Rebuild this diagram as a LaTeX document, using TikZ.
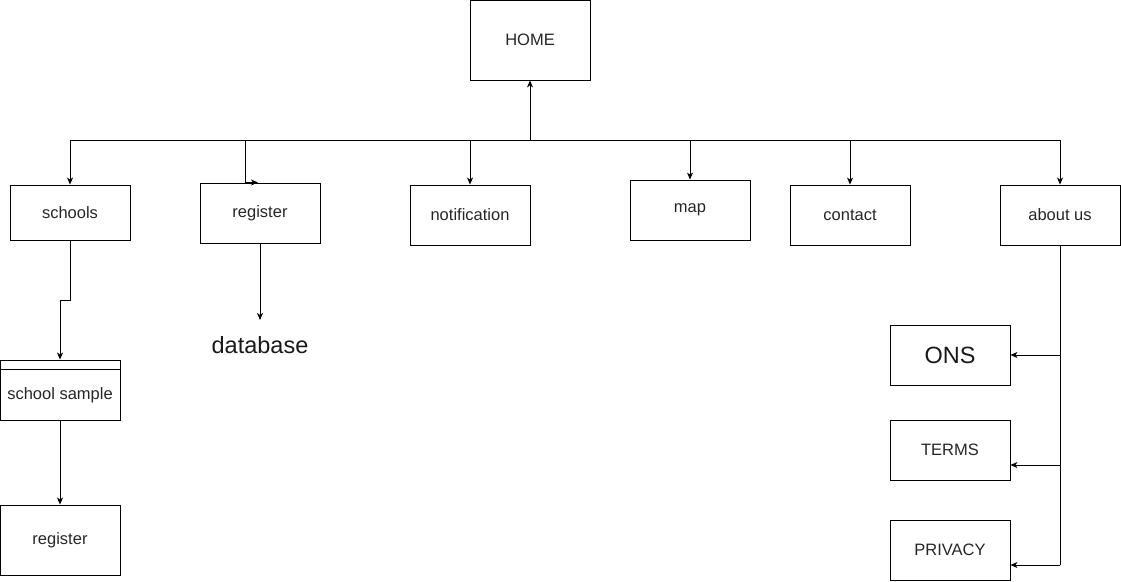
\documentclass[tikz,border=0pt]{standalone}
\usepackage{fontspec}
\setmainfont{Liberation Sans}
\usetikzlibrary{arrows.meta}
\begin{document}
\begin{tikzpicture}[x=1pt,y=-1pt,
  page/.style={draw=black,line width=0.9pt,minimum width=120pt,minimum height=60pt,inner sep=0pt,font=\fontsize{16.5}{19}\selectfont,text=black!85},
  bigtext/.style={font=\fontsize{23.5}{27}\selectfont,text=black!90},
  link/.style={draw=black,line width=0.9pt,-{Stealth[length=7pt,width=6pt,inset=2pt]}}]
\useasboundingbox (0,0) rectangle (1121,581);
% top level
\node[page,minimum height=80pt] (home) at (530,40) {HOME};
\node[page,minimum height=55pt] (schools) at (70,212.5) {schools};
\node[page] (reg) at (260,213) {register};
\node[page] (notif) at (470,215) {notification};
\node[page] (map) at (690,210) {map};
\node[page] (contact) at (850,215) {contact};
\node[page] (about) at (1060,215) {about us};
% second level
\node[bigtext] (db) at (260,345) {database};
\node[page] (sample) at (60,390) {};
\draw[line width=0.9pt] (sample.north west) ++(0,10) -- ++(120,0);
\node[font=\fontsize{16.5}{19}\selectfont,text=black!85] at (60,395) {school sample};
\node[page,minimum height=70pt] (reg2) at (60,540) {register};
\node[page,bigtext] (ons) at (950,355) {ONS};
\node[page] (terms) at (950,450) {TERMS};
\node[page] (privacy) at (950,550) {PRIVACY};
% bus
\coordinate (busL) at (70,140);
\coordinate (busR) at (1060,140);
\draw[line width=0.9pt] (busL) -- (busR);
\draw[link] (home.south |- busL) -- (home.south);
\draw[link] (busL) -- (schools.north);
\draw[link] (245,140) -- (245,182.5) -- (258,182.5);
\draw[link] (notif.north |- busL) -- (notif.north);
\draw[link] (map.north |- busL) -- (map.north);
\draw[link] (contact.north |- busL) -- (contact.north);
\draw[link] (busR) -- (about.north);
% branches
\draw[link] (reg.south) -- (260,320);
\draw[link] (schools.south) -- (70,300) -- (60,300) -- (sample.north);
\draw[link] (sample.south) -- (reg2.north);
\draw[line width=0.9pt] (about.south) -- (1060,565);
\draw[link] (1060,355) -- (ons.east);
\draw[link] (1060,465) -- (terms.east |- 0,465);
\draw[link] (1060,565) -- (privacy.east |- 0,565);
\end{tikzpicture}
\end{document}
